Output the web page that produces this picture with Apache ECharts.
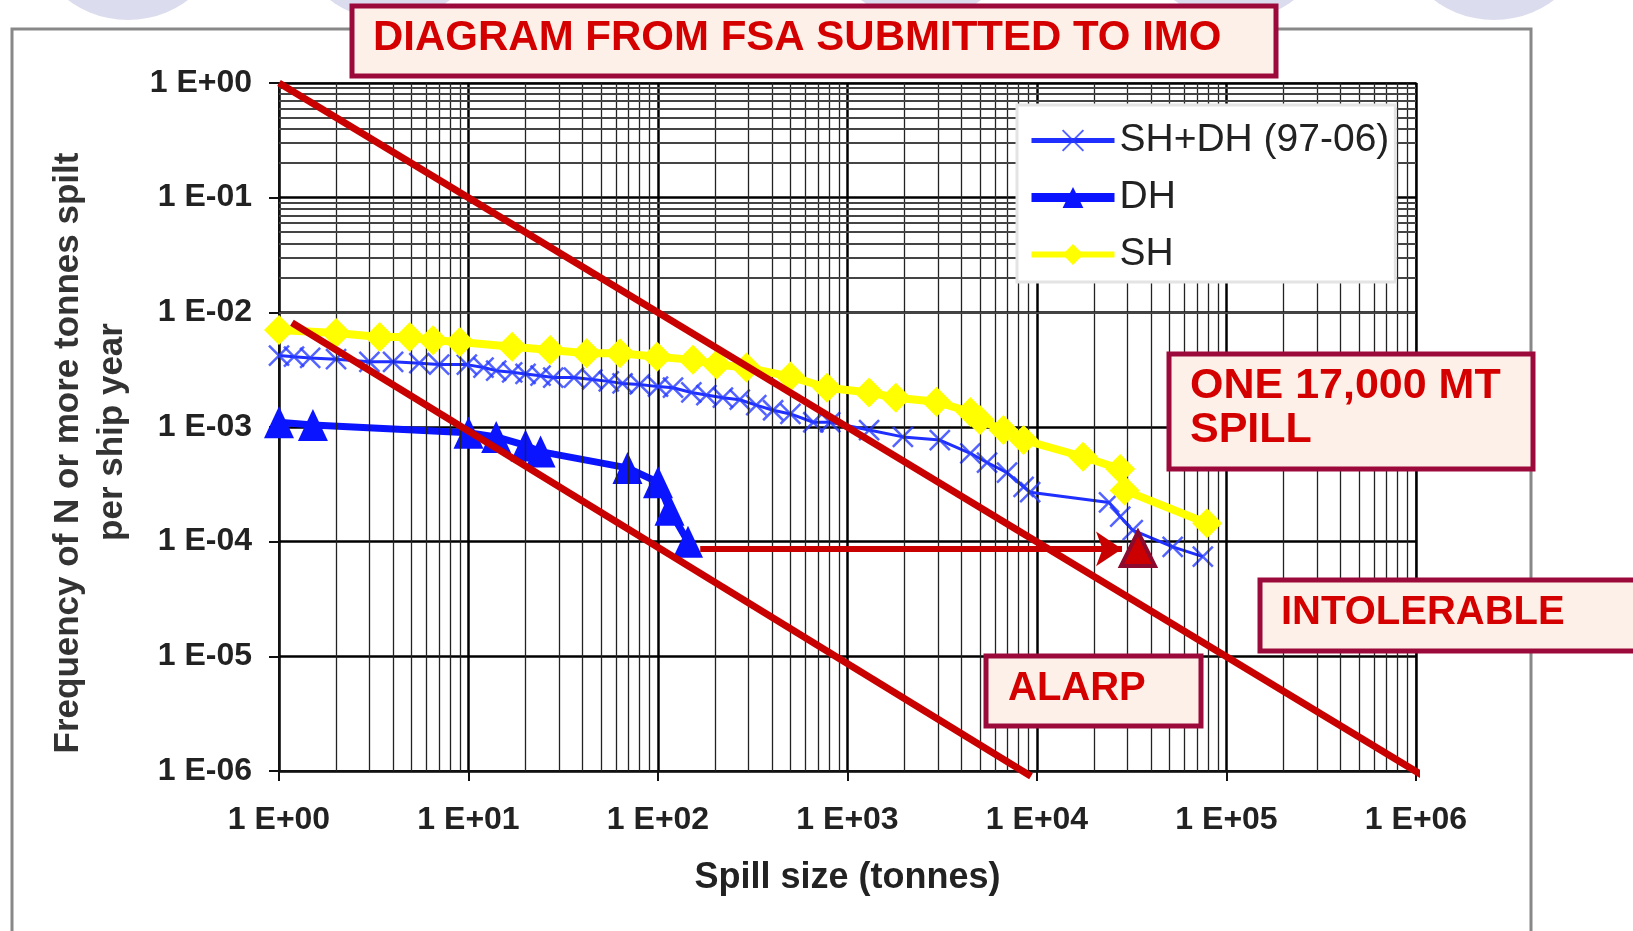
<!DOCTYPE html>
<html>
<head>
<meta charset="utf-8">
<script src="https://cdn.jsdelivr.net/npm/echarts@6/dist/echarts.min.js"></script>
<style>
  html, body { margin: 0; padding: 0; background: #fff; }
  #chart { width: 1633px; height: 931px; }
</style>
</head>
<body>
<div id="chart"></div>
<script>
// spill size (tonnes) / frequency per ship year
const shdhX = [1, 1.2, 1.46, 2, 3, 4, 5.5, 7, 9.8, 12, 14, 17, 20, 24, 28, 36, 45, 55, 65, 80,
  100, 120, 150, 180, 220, 270, 330, 405, 500, 660, 810, 1300, 1960, 3070, 4450, 5450, 6950, 8500, 9200, 24000,
  27500, 32000, 52000, 75000]
const shdhY = [4.2e-3, 4.1e-3, 4.0e-3, 3.9e-3, 3.7e-3, 3.7e-3, 3.6e-3, 3.5e-3, 3.5e-3, 3.3e-3,
  3.1e-3, 3.0e-3, 2.9e-3, 2.8e-3, 2.7e-3, 2.7e-3, 2.6e-3, 2.5e-3, 2.4e-3, 2.35e-3,
  2.25e-3, 2.2e-3, 2.0e-3, 1.9e-3, 1.8e-3, 1.73e-3, 1.55e-3, 1.4e-3, 1.3e-3, 1.1e-3,
  1.1e-3, 9.4e-4, 8.2e-4, 7.7e-4, 5.9e-4, 4.9e-4, 4.0e-4, 3.0e-4, 2.7e-4, 2.2e-4,
  1.65e-4, 1.26e-4, 9e-5, 7.4e-5]

const dhX = [1, 1.51, 10, 14, 20, 24, 69, 100, 115, 144]
const dhY = [1.1e-3, 1.04e-3, 8.9e-4, 8.2e-4, 6.9e-4, 6.1e-4, 4.4e-4, 3.3e-4, 1.9e-4, 1.0e-4]

const shX = [1, 2.0, 3.4, 4.9, 6.5, 9, 17, 27, 42, 63, 99, 153, 204, 293, 500, 780, 1300, 1800, 2950, 4450,
  5000, 6650, 8500, 17500, 27500, 29000, 79000]
const shY = [7.0e-3, 6.6e-3, 6.1e-3, 6.1e-3, 5.7e-3, 5.5e-3, 5.0e-3, 4.7e-3, 4.4e-3, 4.4e-3,
  4.1e-3, 3.85e-3, 3.5e-3, 3.3e-3, 2.75e-3, 2.2e-3, 2.0e-3, 1.8e-3, 1.66e-3, 1.35e-3,
  1.15e-3, 9.4e-4, 7.7e-4, 5.5e-4, 4.3e-4, 2.8e-4, 1.45e-4]

// criteria lines
const intolerableX = [1, 1.1e6]
const intolerableY = [1, 9e-7]
const alarpX = [1.17, 9300]
const alarpY = [8.1e-3, 9e-7]

// the 17,000 t spill arrow and marker
const arrowX = [167, 28100]
const arrowY = 8.65e-5
const spillPoint = [34100, 8.65e-5]

const xDecades = [1, 10, 100, 1000, 10000, 100000, 1000000]
const yDecades = [1e-6, 1e-5, 1e-4, 1e-3, 1e-2, 1e-1, 1]

const legendNames = ['SH+DH (97-06)', 'DH', 'SH']

const zip = (xs, ys) => xs.map((x, i) => [x, ys[i]])

const expLabel = (v) => {
  const e = Math.round(Math.log10(v))
  return '1 E' + (e < 0 ? '-' : '+') + String(Math.abs(e)).padStart(2, '0')
}

// minor log grid (2..9 in each decade)
const minorX = []
xDecades.slice(0, -1).forEach((d) => {
  for (let m = 2; m <= 9; m++) minorX.push({ xAxis: m * d })
})
const minorY = []
yDecades.slice(0, -1).forEach((d) => {
  for (let m = 2; m <= 9; m++) minorY.push({ yAxis: m * d })
})

const red = '#c80000'
const fontFamily = '"Liberation Sans", Arial, sans-serif'

const box = (x, y, w, h, size, lines) => ({
  type: 'group',
  z: 100,
  children: [
    {
      type: 'rect',
      shape: { x, y, width: w, height: h },
      style: { fill: '#fdf0e8', stroke: '#9b0a3a', lineWidth: 5 },
      z: 100,
    },
    ...lines.map(l => ({
      type: 'text',
      x: l.x,
      y: l.y,
      z: 101,
      style: {
        text: l.text,
        font: `bold ${size}px ${fontFamily}`,
        fill: '#d40000',
        align: 'left',
        verticalAlign: 'middle',
      },
    })),
  ],
})

const circle = cx => ({
  type: 'circle',
  shape: { cx, cy: -80, r: 100 },
  style: { fill: '#dcdcef' },
  z: -10,
})

const yTitle = (x, y, text) => ({
  type: 'text',
  x,
  y,
  rotation: Math.PI / 2,
  style: {
    text,
    font: `bold 35px ${fontFamily}`,
    fill: '#333',
    align: 'center',
    verticalAlign: 'middle',
  },
})

const chart = echarts.init(document.getElementById('chart'))

chart.setOption({
  animation: false,
  backgroundColor: '#fff',
  grid: {
    left: 279,
    right: 217,
    top: 83,
    bottom: 160,
    containLabel: false,
    outerBoundsMode: 'none',
    show: true,
    backgroundColor: '#fff',
    borderColor: '#777',
    borderWidth: 2,
  },
  legend: {
    data: [
      { name: legendNames[0], lineStyle: { width: 5 } },
      { name: legendNames[1], lineStyle: { width: 9 } },
      { name: legendNames[2], lineStyle: { width: 6 } },
    ],
    orient: 'vertical',
    left: 1017,
    top: 105,
    padding: [16, 6, 8, 10],
    itemGap: 18,
    itemWidth: 83,
    itemHeight: 26,
    itemTextGap: 7,
    backgroundColor: '#fff',
    borderColor: '#e4e4e4',
    borderWidth: 3,
    borderRadius: 0,
    textStyle: { fontSize: 39, color: '#222', fontFamily },
    z: 50,
  },
  xAxis: {
    type: 'log',
    logBase: 10,
    min: 1,
    max: 1e6,
    splitNumber: 6,
    name: 'Spill size (tonnes)',
    nameLocation: 'middle',
    nameGap: 89,
    nameTextStyle: { fontSize: 36, fontWeight: 'bold', color: '#222', fontFamily },
    axisLine: { show: true, lineStyle: { color: '#111', width: 2 } },
    axisTick: { show: true, length: 10, lineStyle: { color: '#111', width: 2 } },
    axisLabel: { formatter: expLabel, margin: 33, fontSize: 32, fontWeight: 'bold', color: '#222', fontFamily },
    splitLine: { show: true, lineStyle: { color: '#000', width: 2.5 } },
  },
  yAxis: {
    type: 'log',
    logBase: 10,
    min: 1e-6,
    max: 1,
    splitNumber: 6,
    axisLine: { show: true, lineStyle: { color: '#111', width: 2 } },
    axisTick: { show: true, length: 10, lineStyle: { color: '#111', width: 2 } },
    axisLabel: { formatter: expLabel, margin: 27, fontSize: 32, fontWeight: 'bold', color: '#222', fontFamily },
    splitLine: { show: true, lineStyle: { color: '#000', width: 2.5 } },
  },
  graphic: {
    elements: [
      circle(128), circle(390), circle(921), circle(1234), circle(1494),
      {
        type: 'rect',
        shape: { x: 12, y: 29, width: 1519, height: 960 },
        style: { fill: 'none', stroke: '#888', lineWidth: 3 },
        z: -5,
      },
      yTitle(68, 453, 'Frequency of N or more tonnes spilt'),
      yTitle(112, 432, 'per ship year'),
      box(352, 6, 924, 70, 42, [{ x: 373, y: 38, text: 'DIAGRAM FROM FSA SUBMITTED TO IMO' }]),
      box(1169, 354, 364, 115, 43, [
        { x: 1190, y: 386, text: 'ONE 17,000 MT' },
        { x: 1190, y: 430, text: 'SPILL' },
      ]),
      box(1260, 580, 390, 71, 40, [{ x: 1281, y: 613, text: 'INTOLERABLE' }]),
      box(986, 656, 215, 70, 40, [{ x: 1008, y: 689, text: 'ALARP' }]),
    ],
  },
  series: [
    {
      name: 'grid',
      type: 'line',
      data: [],
      z: 1,
      silent: true,
      markLine: {
        silent: true,
        symbol: 'none',
        label: { show: false },
        animation: false,
        data: [
          ...minorX.map(d => ({ ...d, lineStyle: { color: '#222', width: 1.3, type: 'solid' } })),
          ...minorY.map(d => ({ ...d, lineStyle: { color: '#444', width: 2, type: 'solid' } })),
        ],
      },
    },
    {
      name: 'SH+DH (97-06)',
      type: 'line',
      data: zip(shdhX, shdhY),
      z: 3,
      symbol: 'path://M0,0L10,10M10,0L0,10',
      symbolSize: 20,
      lineStyle: { color: '#1f2fff', width: 3 },
      itemStyle: { color: 'rgba(50,70,255,0.8)', borderColor: 'rgba(40,60,255,0.8)', borderWidth: 2.5 },
    },
    {
      name: 'DH',
      type: 'line',
      data: zip(dhX, dhY),
      z: 4,
      symbol: 'triangle',
      symbolSize: [30, 32],
      lineStyle: { color: '#0a14ff', width: 7 },
      itemStyle: { color: '#0a14ff', borderWidth: 0 },
    },
    {
      name: 'SH',
      type: 'line',
      data: zip(shX, shY),
      z: 5,
      symbol: 'diamond',
      symbolSize: 30,
      lineStyle: { color: '#ffff00', width: 8 },
      itemStyle: { color: '#ffff00', borderWidth: 0 },
    },
    {
      name: 'intolerable',
      type: 'line',
      data: zip(intolerableX, intolerableY),
      z: 8,
      clip: false,
      silent: true,
      symbol: 'none',
      lineStyle: { color: red, width: 7 },
    },
    {
      name: 'alarp',
      type: 'line',
      data: zip(alarpX, alarpY),
      z: 8,
      clip: false,
      silent: true,
      symbol: 'none',
      lineStyle: { color: red, width: 7 },
      markLine: {
        silent: true,
        symbol: ['none', 'arrow'],
        symbolSize: 26,
        label: { show: false },
        lineStyle: { color: red, width: 6, type: 'solid' },
        data: [[{ coord: [arrowX[0], arrowY] }, { coord: [arrowX[1], arrowY] }]],
      },
    },
    {
      name: '17000 t spill',
      type: 'scatter',
      data: [spillPoint],
      z: 9,
      silent: true,
      symbol: 'triangle',
      symbolSize: [34, 34],
      itemStyle: { color: '#cc0000', borderColor: '#8b0a2e', borderWidth: 4, opacity: 1 },
    },
  ],
})
</script>
</body>
</html>
